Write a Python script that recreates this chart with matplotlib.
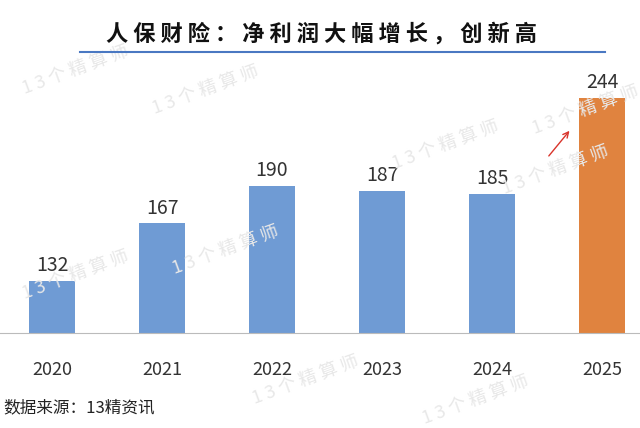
import matplotlib
matplotlib.use("Agg")
import matplotlib.pyplot as plt

plt.rcParams['font.family'] = ['Noto Sans CJK SC', 'DejaVu Sans']

years = ["2020", "2021", "2022", "2023", "2024", "2025"]
profits = [132, 167, 190, 187, 185, 244]
colors = ["#6f9bd4"] * 5 + ["#e0833f"]

fig = plt.figure(figsize=(6.4, 4.28), dpi=100)
ax = fig.add_axes([0, 1 - 333 / 428, 1, (333 - 60) / 428])
x = list(range(len(years)))
ax.bar(x, profits, width=0.41, color=colors, zorder=2)
ax.set_ylim(100, 267)
ax.set_xlim(-0.473, 5.345)
for xi, v in zip(x, profits):
    ax.text(xi, v + 3, str(v), ha='center', va='bottom', fontsize=14, color='#333333')
for s in ['top', 'left', 'right']:
    ax.spines[s].set_visible(False)
ax.spines['bottom'].set_color('#bbbbbb')
ax.set_yticks([])
ax.set_xticks(x)
ax.set_xticklabels(years, fontsize=13, color='#333333')
ax.tick_params(axis='x', length=0, pad=20)

fig.text(322 / 640, 1 - 34 / 428, "人 保 财 险 ： 净 利 润 大 幅 增 长 ， 创 新 高",
         ha='center', va='center', fontsize=16, fontweight='bold', color='#111111')
fig.add_artist(plt.Line2D([80 / 640, 605 / 640], [1 - 52 / 428] * 2, color='#4a78c2', lw=1.5))
fig.text(3 / 640, 1 - 408 / 428, "数据来源：13精资讯", ha='left', va='center', fontsize=12, color='#222222')

ax.annotate("", xy=(4.72, 225), xytext=(4.5, 207),
            arrowprops=dict(arrowstyle='->', color='#d9342b', lw=1))

for (px, py) in [(20, 70), (170, 250), (390, 145), (20, 275), (250, 380), (500, 170), (530, 110), (420, 400), (150, 90)]:
    fig.text(px / 640, 1 - py / 428, "1 3 个 精 算 师", fontsize=13, color='#e8e8e8',
             rotation=20, ha='left', va='center', zorder=0)

fig.savefig("out.png", dpi=100)
